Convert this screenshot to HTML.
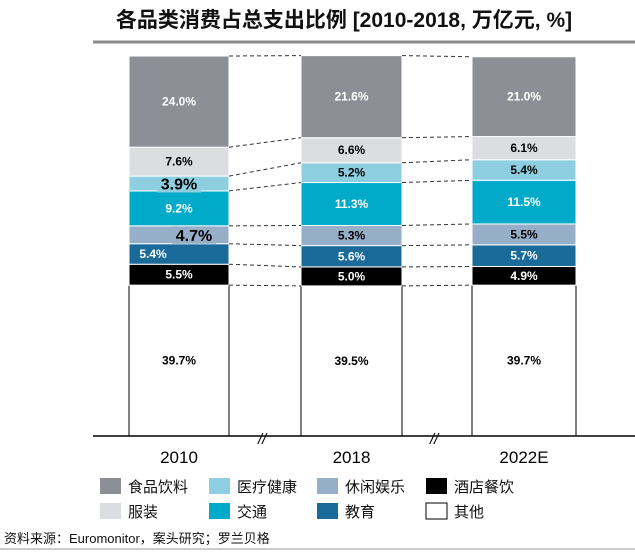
<!DOCTYPE html>
<html><head><meta charset="utf-8"><style>
body{margin:0;background:#fff;font-family:"Liberation Sans","Noto Sans CJK SC",sans-serif}
svg text{font-family:"Liberation Sans","Noto Sans CJK SC",sans-serif}
</style></head><body>
<svg id="c" width="635" height="550">
<text x="344" y="27" text-anchor="middle" font-size="21" font-weight="bold" fill="#111">各品类消费占总支出比例 [2010-2018, 万亿元, %]</text>
<line x1="93" y1="42" x2="635" y2="42" stroke="#8a8a8a" stroke-width="3"/>
<g id="bars"></g>
<line x1="93" y1="436" x2="635" y2="436" stroke="#000" stroke-width="1.5"/>
<text x="258" y="444" font-size="15" font-style="italic" fill="#000">//</text>
<text x="430" y="444" font-size="15" font-style="italic" fill="#000">//</text>
<g id="legend"></g>
<text x="4" y="543" font-size="13" fill="#111">资料来源：Euromonitor，案头研究；罗兰贝格</text>
<line x1="0" y1="549" x2="635" y2="549" stroke="#bbb" stroke-width="1.5"/>
</svg>
<script>
const years=["2010","2018","2022E"];
const categories=["其他","酒店餐饮","教育","休闲娱乐","交通","医疗健康","服装","食品饮料"];
const other=[39.7,39.5,39.7];
const hotel=[5.5,5.0,4.9];
const education=[5.4,5.6,5.7];
const leisure=[4.7,5.3,5.5];
const transport=[9.2,11.3,11.5];
const medical=[3.9,5.2,5.4];
const apparel=[7.6,6.6,6.1];
const food=[24.0,21.6,21.0];
const series=[other,hotel,education,leisure,transport,medical,apparel,food];
const colors=["#ffffff","#000000","#1a6a9a","#97aec9","#00aac8","#8dcfe0","#dcdde0","#8c9096"];
const textCol=["#000","#fff","#fff","#000","#fff","#000","#000","#fff"];
const NS="http://www.w3.org/2000/svg";
const barX=[129,301,472],barW=[100,101,104];
const y0=436,plotH=380;
function yScale(v){return y0-v*plotH/100;}
const g=document.getElementById('bars');
function mk(t,a){const e=document.createElementNS(NS,t);for(const k in a)e.setAttribute(k,a[k]);return e;}
const bounds=[];
years.forEach((yr,i)=>{
  let cum=0;const b=[];
  series.forEach((s,k)=>{
    const v=s[i];const top=yScale(cum+v),bot=yScale(cum);
    const r=mk('rect',{x:barX[i],y:top,width:barW[i],height:bot-top,fill:colors[k]});
    if(k>0){r.setAttribute('stroke','#fff');r.setAttribute('stroke-width','1');}
    
    
    g.appendChild(r);
    if(k===0){
      const l1=mk('line',{x1:barX[i],y1:top,x2:barX[i],y2:y0,stroke:'#000'});
      g.appendChild(l1);
      const l2=mk('line',{x1:barX[i]+barW[i],y1:top,x2:barX[i]+barW[i],y2:y0,stroke:'#000'});
      g.appendChild(l2);
    }
    let cx=barX[i]+barW[i]/2,fs=12;
    const big=(i===0&&(k===3||k===5));
    if(big){fs=16;
      const bx=i===0&&k===3?cx+15:cx;
      const bg=mk('rect',{x:bx-22,y:(top+bot)/2-9,width:44,height:18,fill:colors[k]});
      g.appendChild(bg);
      cx=bx;}
    if(i===0&&k===2)cx=barX[i]+24;
    const t=mk('text',{x:cx,y:(top+bot)/2+(big?6:4),'text-anchor':'middle','font-size':fs,'font-weight':'bold',fill:textCol[k]});
    t.textContent=v.toFixed(1)+'%';
    
    g.appendChild(t);
    b.push(bot);cum+=v;
  });
  b.push(yScale(cum));bounds.push(b);
  const yt=mk('text',{x:barX[i]+barW[i]/2,y:463,'text-anchor':'middle','font-size':17,fill:'#000'});
  yt.textContent=yr;
  
  g.appendChild(yt);
});
for(let i=0;i<2;i++){
  for(let k=1;k<bounds[i].length;k++){
    const l=mk('line',{x1:barX[i]+barW[i],y1:bounds[i][k],x2:barX[i+1],y2:bounds[i+1][k],stroke:'#333','stroke-dasharray':'4,3'});
    
    g.appendChild(l);
  }
}
const legendOrder=[7,5,3,1,6,4,2,0];
const lg=document.getElementById('legend');
legendOrder.forEach((k,j)=>{
  const col=j%4,row=Math.floor(j/4);
  const x=[100,209,317,426][col],y=478+row*25;
  const r=mk('rect',{x:x,y:y,width:21,height:16,fill:colors[k]});
  if(k===0){r.setAttribute('stroke','#000');}
  
  lg.appendChild(r);
  const name=k===6?'服装':k===4?'交通':k===2?'教育':k===0?'其他':categories[k];
  const t=mk('text',{x:x+28,y:y+14,'font-size':15,fill:'#111'});
  t.textContent=name;
  
  lg.appendChild(t);
});
</script>
</body></html>
